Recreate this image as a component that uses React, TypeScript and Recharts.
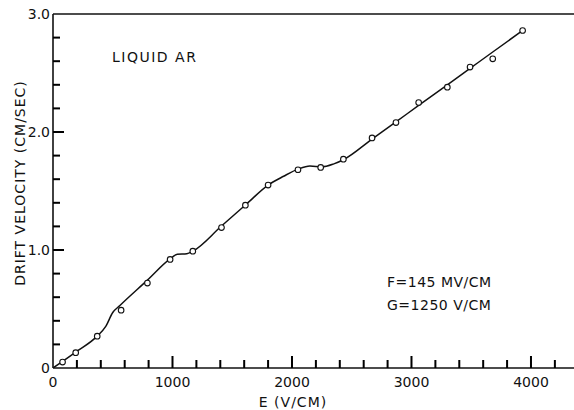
import React from "react";
import { ComposedChart, Line, Scatter, XAxis, YAxis, ReferenceLine } from "recharts";

// Measured points: field E (V/cm) and drift velocity (cm/sec, scaled)
const pointE = [80, 190, 370, 570, 790, 980, 1170, 1410, 1610, 1800, 2050, 2240, 2430, 2670, 2870, 3060, 3300, 3490, 3680, 3930];
const pointV = [0.05, 0.13, 0.27, 0.49, 0.72, 0.92, 0.99, 1.19, 1.38, 1.55, 1.68, 1.70, 1.77, 1.95, 2.08, 2.25, 2.38, 2.55, 2.62, 2.86];

// Hand-drawn fit curve
const curveE = [0, 190, 370, 440, 500, 560, 790, 980, 1040, 1120, 1170, 1410, 1610, 1800, 1930, 2050, 2150, 2250, 2350, 2430, 2670, 2870, 3060, 3300, 3490, 3680, 3930];
const curveV = [0, 0.135, 0.27, 0.35, 0.47, 0.53, 0.745, 0.925, 0.963, 0.968, 0.99, 1.203, 1.381, 1.55, 1.625, 1.685, 1.712, 1.705, 1.73, 1.765, 1.94, 2.086, 2.225, 2.40, 2.539, 2.678, 2.86];

const xTicks = [0, 200, 400, 600, 800, 1000, 1200, 1400, 1600, 1800, 2000, 2200, 2400, 2600, 2800, 3000, 3200, 3400, 3600, 3800, 4000, 4200];
const yTicks = [0, 0.2, 0.4, 0.6, 0.8, 1.0, 1.2, 1.4, 1.6, 1.8, 2.0, 2.2, 2.4, 2.6, 2.8, 3.0];
const xLabels = ["0", "1000", "2000", "3000", "4000"];
const yLabels = ["0", "1.0", "2.0", "3.0"];

const isMajorX = (v: number) => Math.abs(v % 1000) < 1e-6;
const isMajorY = (v: number) => Math.abs(v - Math.round(v)) < 1e-6;

const pointData = pointE.map((e, i) => ({ e, v: pointV[i] }));
const curveData = curveE.map((e, i) => ({ e, v: curveV[i] }));

const FONT = "'DejaVu Sans', sans-serif";
const X_MAX = 4360;
const Y_MAX = 3;

const XTick = (props: any) => {
  const { x, y, payload } = props;
  const val = payload.value;
  const label = String(val);
  const major = isMajorX(val);
  const len = major ? 12 : 8;
  return (
    <g>
      {val > 0 && <rect x={x - 1} y={y - len} width={2} height={len} fill="#000" stroke="none" />}
      {major && xLabels.includes(label) && (
        <text x={x} y={y + 19} textAnchor="middle" fontFamily={FONT} fontSize={14} fill="#111" stroke="none">
          {label}
        </text>
      )}
    </g>
  );
};

const YTick = (props: any) => {
  const { x, y, payload } = props;
  const val = payload.value;
  const label = val === 0 ? "0" : val.toFixed(1);
  const major = isMajorY(val);
  const len = major ? 11 : 7;
  return (
    <g>
      {val > 0 && val < Y_MAX && <rect x={x} y={y - 1} width={len} height={2} fill="#000" stroke="none" />}
      {major && yLabels.includes(label) && (
        <text x={x - 3} y={y + 5} textAnchor="end" fontFamily={FONT} fontSize={14} fill="#111" stroke="none">
          {label}
        </text>
      )}
    </g>
  );
};

const Dot = (p: any) => (
  <circle cx={p.cx} cy={p.cy} r={2.8} fill="#fff" stroke="#111" strokeWidth={1.1} />
);

export default function App() {
  return (
    <div style={{ position: "absolute", left: 0, top: 0, width: 574, height: 410, background: "#fff" }}>
      <ComposedChart
        width={574}
        height={410}
        margin={{ top: 14, right: 0, bottom: 0, left: 0 }}
      >
        <XAxis
          dataKey="e"
          type="number"
          domain={[0, X_MAX]}
          ticks={xTicks}
          interval={0}
          tickSize={0}
          tickMargin={0}
          height={42}
          tick={<XTick />}
          axisLine={{ stroke: "#111", strokeWidth: 1.6 }}
          tickLine={false}
          allowDataOverflow
        />
        <YAxis
          dataKey="v"
          type="number"
          domain={[0, Y_MAX]}
          ticks={yTicks}
          interval={0}
          tickSize={0}
          tickMargin={0}
          width={53}
          tick={<YTick />}
          axisLine={{ stroke: "#111", strokeWidth: 1.6 }}
          tickLine={false}
          allowDataOverflow
        />
        <ReferenceLine y={Y_MAX} stroke="#111" strokeWidth={1.6} />
        <Line
          data={curveData}
          dataKey="v"
          type="monotone"
          stroke="#111"
          strokeWidth={1.5}
          dot={false}
          activeDot={false}
          isAnimationActive={false}
        />
        <Scatter data={pointData} dataKey="v" shape={<Dot />} isAnimationActive={false} />
      </ComposedChart>
      <svg width={574} height={410} style={{ position: "absolute", left: 0, top: 0, pointerEvents: "none" }}>
        <text x={293} y={407} textAnchor="middle" fontFamily={FONT} fontSize={14} fill="#111" letterSpacing={1}>
          E (V/CM)
        </text>
        <text
          x={0}
          y={0}
          transform="translate(25,183) rotate(-90)"
          textAnchor="middle"
          fontFamily={FONT}
          fontSize={14}
          fill="#111"
          letterSpacing={1}
        >
          DRIFT VELOCITY (CM/SEC)
        </text>
        <text x={112} y={62} fontFamily={FONT} fontSize={14} fill="#111" letterSpacing={1.5}>
          LIQUID AR
        </text>
        <text x={387} y={287} fontFamily={FONT} fontSize={14} fill="#111" letterSpacing={0.5}>
          F=145 MV/CM
        </text>
        <text x={387} y={310} fontFamily={FONT} fontSize={14} fill="#111" letterSpacing={0.5}>
          G=1250 V/CM
        </text>
      </svg>
    </div>
  );
}
